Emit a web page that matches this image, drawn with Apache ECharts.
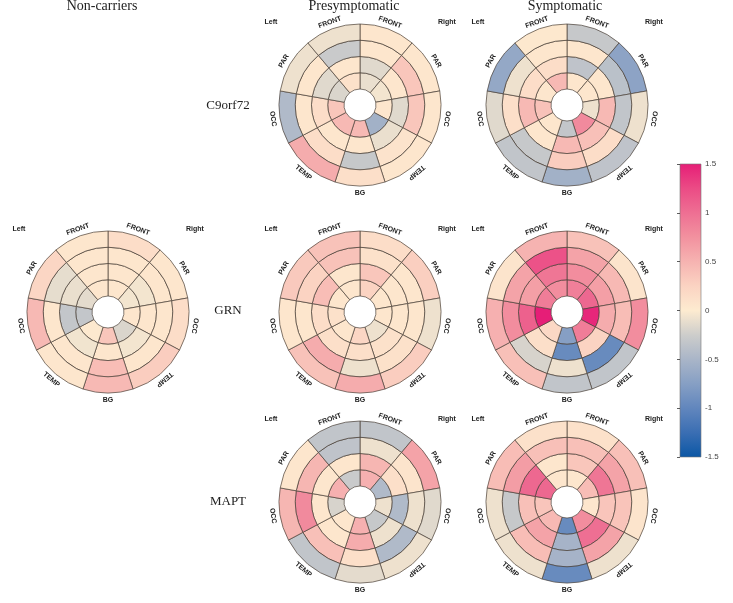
<!DOCTYPE html>
<html>
<head>
<meta charset="utf-8">
<script src="https://cdn.jsdelivr.net/npm/echarts@6/dist/echarts.min.js"></script>
<style>
	html, body { margin: 0; padding: 0; background: #fff; }
	#chart { width: 733px; height: 603px; }
</style>
</head>
<body>
<div id="chart"></div>
<script>
	// rings from the inner hole outwards
	const rings = ['1', '2', '3', '4'];
	// sectors clockwise from the top: right FRONT, PAR, OCC, TEMP, BG, left TEMP, OCC, PAR, FRONT
	const sectorNames = ['FRONT', 'PAR', 'OCC', 'TEMP', 'BG', 'TEMP', 'OCC', 'PAR', 'FRONT'];
	const sectorSpan = [40, 40, 38, 44, 36, 44, 38, 40, 40];
	const columnTitles = ['Non-carriers', 'Presymptomatic', 'Symptomatic'];
	const rowNames = ['C9orf72', 'GRN', 'MAPT'];

	// one row per sector, values inner ring -> outer ring
	const c9Pre = [
		[-0.1, -0.15, 0.05, 0.05],
		[-0.05, 0.05, 0.35, 0.05],
		[0.05, -0.15, 0.35, 0.05],
		[-0.55, -0.1, 0.08, 0.05],
		[0.45, 0.05, -0.3, 0.12],
		[0.45, 0.05, 0.15, 0.55],
		[0.35, 0.15, 0.05, -0.45],
		[-0.18, -0.15, 0.05, -0.08],
		[0.1, 0.05, -0.28, -0.08]
	];
	const c9Sym = [
		[0.05, -0.35, 0.05, -0.3],
		[0.05, 0.05, -0.38, -0.7],
		[-0.08, 0.45, -0.33, -0.08],
		[0.8, 0.4, 0.15, -0.35],
		[-0.32, 0.45, 0.3, -0.55],
		[0.05, 0.05, -0.3, -0.33],
		[0.38, 0.45, 0.12, -0.15],
		[0.05, 0.15, -0.08, -0.65],
		[0.45, 0.15, 0.05, 0.03]
	];
	const grnNon = [
		[0.05, 0.05, 0.05, 0.15],
		[-0.05, -0.05, 0.05, 0.05],
		[0.05, 0.05, 0.05, 0.15],
		[-0.18, -0.05, 0.05, 0.3],
		[0.35, 0.05, 0.42, 0.45],
		[0.02, -0.06, 0.05, 0.05],
		[-0.32, -0.32, 0.05, 0.45],
		[-0.13, -0.1, -0.12, 0.22],
		[0.05, 0.05, 0.05, 0.05]
	];
	const grnPre = [
		[0.25, 0.35, 0.1, 0.15],
		[0.05, 0.05, 0.05, 0.28],
		[0.05, 0.05, 0.05, -0.08],
		[-0.08, 0.1, 0.1, 0.3],
		[0.22, 0.12, -0.08, 0.55],
		[0.05, 0.12, 0.55, 0.38],
		[0.1, 0.15, 0.05, 0.05],
		[0.05, 0.42, 0.25, 0.33],
		[0.05, 0.05, 0.38, 0.38]
	];
	const grnSym = [
		[0.88, 0.78, 0.62, 0.38],
		[1.05, 0.65, 0.45, 0.07],
		[1.45, 0.55, 0.42, 0.78],
		[0.9, 0.25, -0.95, -0.33],
		[-0.75, -0.95, -0.08, -0.33],
		[0.2, 0.12, -0.2, 0.4],
		[1.5, 1.1, 0.78, 0.52],
		[0.9, 0.65, 0.62, 0.07],
		[0.78, 0.95, 1.2, 0.5]
	];
	const maptPre = [
		[0.52, 0.48, -0.08, -0.33],
		[-0.45, 0.12, 0.07, 0.62],
		[-0.08, -0.45, -0.08, -0.15],
		[-0.3, -0.08, -0.45, -0.08],
		[0.52, 0.55, 0.12, -0.13],
		[0.05, 0.05, 0.4, -0.33],
		[-0.2, 0.05, 0.8, 0.48],
		[0.52, 0.05, 0.48, 0.05],
		[-0.28, 0.05, -0.35, -0.33]
	];
	const maptSym = [
		[0.05, 0.35, 0.4, 0.1],
		[0.42, 0.95, 0.62, 0.4],
		[0.05, 0.36, 0.37, 0.07],
		[0.78, 1.0, 0.62, -0.08],
		[-0.95, -0.52, -0.52, -0.95],
		[0.45, 0.62, 0.42, -0.08],
		[0.36, 0.4, -0.3, -0.08],
		[1.05, 1.05, 0.66, 0.42],
		[0.05, 0.05, 0.4, 0.1]
	];

	// colour scale -1.5 .. 1.5 in steps of 0.25
	const palette = ['#0b57a5', '#3a6eb3', '#6186bd', '#869fc4', '#a9b5c8', '#cdcdcb', '#fdebd0',
		'#fbd3c2', '#f6b3b1', '#f2919f', '#ee6f93', '#eb4b85', '#e61e77'];

	const panels = [
		{ data: c9Pre, center: [360, 105] },
		{ data: c9Sym, center: [567, 105] },
		{ data: grnNon, center: [108, 312] },
		{ data: grnPre, center: [360, 312] },
		{ data: grnSym, center: [567, 312] },
		{ data: maptPre, center: [360, 502] },
		{ data: maptSym, center: [567, 502] }
	];

	const sansBold = 'bold 7px "Liberation Sans", Arial, sans-serif';
	const serif = '"Liberation Serif", "Times New Roman", serif';

	let option = {
		backgroundColor: '#fff',
		animation: false,
		polar: [],
		angleAxis: [],
		radiusAxis: [],
		series: [],
		graphic: [],
		visualMap: {
			type: 'continuous',
			show: false,
			min: -1.5,
			max: 1.5,
			dimension: 2,
			inRange: { color: palette }
		},
		grid: {
			left: 680,
			top: 164,
			width: 21,
			height: 293
		},
		xAxis: { type: 'value', show: false },
		yAxis: {
			type: 'value',
			position: 'right',
			min: -1.5,
			max: 1.5,
			interval: 0.5,
			axisLine: { show: false },
			axisTick: { inside: true, length: 3, lineStyle: { color: '#333', width: 0.8 } },
			axisLabel: { fontSize: 8, color: '#444', margin: 4, fontFamily: '"Liberation Sans", Arial, sans-serif' },
			splitLine: { show: false }
		}
	};

	panels.forEach((p, k) => {
		option.polar.push({ center: p.center, radius: [16, 81] });
		option.angleAxis.push({
			polarIndex: k, type: 'value', min: 0, max: 360,
			startAngle: 90, clockwise: true, show: false
		});
		option.radiusAxis.push({ polarIndex: k, type: 'category', data: rings, show: false });

		let start = 0;
		sectorSpan.forEach((span, s) => {
			option.series.push({
				type: 'bar',
				coordinateSystem: 'polar',
				polarIndex: k,
				stack: 'disc' + k,
				barCategoryGap: '0%',
				silent: true,
				encode: { radius: 0, angle: 1 },
				itemStyle: { borderColor: '#4a4038', borderWidth: 0.7 },
				data: p.data[s].map((v, r) => [r, span, v])
			});

			// region name outside the ring
			let mid = start + span / 2;
			let rad = mid * Math.PI / 180;
			let rot = mid < 180 ? -mid : (mid <= 270 ? 180 - mid : 360 - mid);
			option.graphic.push({
				type: 'text',
				x: p.center[0] + 88 * Math.sin(rad),
				y: p.center[1] - 88 * Math.cos(rad),
				rotation: rot * Math.PI / 180,
				style: {
					text: sectorNames[s], font: sansBold, fill: '#222',
					textAlign: 'center', textVerticalAlign: 'middle'
				}
			});
			start += span;
		});

		option.graphic.push({
			type: 'text', x: p.center[0] - 89, y: p.center[1] - 83,
			style: { text: 'Left', font: sansBold, fill: '#222', textAlign: 'center', textVerticalAlign: 'middle' }
		}, {
			type: 'text', x: p.center[0] + 87, y: p.center[1] - 83,
			style: { text: 'Right', font: sansBold, fill: '#222', textAlign: 'center', textVerticalAlign: 'middle' }
		});
	});

	// column titles and row names
	[102, 354, 565].forEach((x, i) => {
		option.graphic.push({
			type: 'text', x: x, y: 6,
			style: { text: columnTitles[i], font: '14px ' + serif, fill: '#222', textAlign: 'center', textVerticalAlign: 'middle' }
		});
	});
	[106, 311, 502].forEach((y, i) => {
		option.graphic.push({
			type: 'text', x: 228, y: y,
			style: { text: rowNames[i], font: '13px ' + serif, fill: '#222', textAlign: 'center', textVerticalAlign: 'middle' }
		});
	});

	// colour bar
	let stops = palette.map((c, i) => ({ offset: i / (palette.length - 1), color: palette[palette.length - 1 - i] }));
	option.graphic.push({
		type: 'rect',
		z: -1,
		shape: { x: 680, y: 164, width: 21, height: 293 },
		style: {
			fill: new echarts.graphic.LinearGradient(0, 0, 0, 1, stops),
			stroke: '#777',
			lineWidth: 0.6
		}
	});

	let chart = echarts.init(document.getElementById('chart'));
	chart.setOption(option);
</script>
</body>
</html>
